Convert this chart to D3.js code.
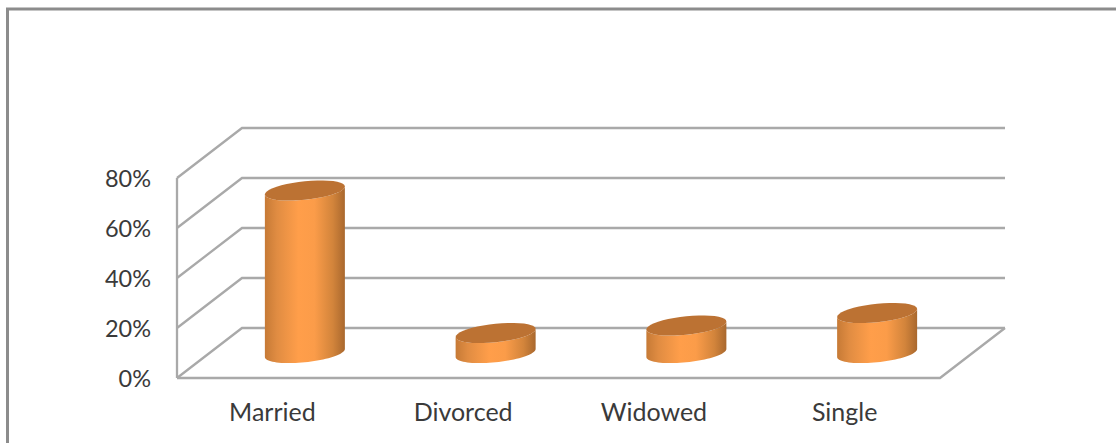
<!DOCTYPE html>
<html>
<head>
<meta charset="utf-8">
<script src="https://cdn.jsdelivr.net/npm/d3@7"></script>
<style>
  html, body { margin: 0; padding: 0; background: #fff; overflow: hidden; }
  svg { display: block; }
  text { font-family: Lato, "Open Sans", sans-serif; fill: #3a3a3a; }
</style>
</head>
<body>
<svg id="chart" width="1116" height="443"></svg>
<script>
const categories = ["Married", "Divorced", "Widowed", "Single"];
const values = [65, 8, 11, 16];
const ticks = [0, 20, 40, 60, 80];

const svg = d3.select("#chart");

const plot = { left: 177, right: 940, bottom: 378, top: 178 };
const depthX = 65, depthY = 50;
const barHalf = 40, capRy = 9.3, capTilt = 4;

const x = d3.scaleBand().domain(categories).range([plot.left, plot.right]);
const y = d3.scaleLinear().domain([0, 80]).range([plot.bottom, plot.top]);

// outer frame, open on the right and bottom like the crop
svg.append("path")
  .attr("d", "M7.5,443V9H1116")
  .attr("fill", "none")
  .attr("stroke", "#8c8c8c")
  .attr("stroke-width", 3);

const grid = svg.append("g")
  .attr("fill", "none")
  .attr("stroke", "#a9a9a9")
  .attr("stroke-width", 2.3);

// back wall and side wall lines
ticks.forEach(t => {
  grid.append("path")
    .attr("d", `M${plot.left},${y(t)}L${plot.left + depthX},${y(t) - depthY}H${plot.right + depthX}`);
});
grid.append("path").attr("d", `M${plot.left},${y(0)}V${y(80)}`);
grid.append("path")
  .attr("d", `M${plot.left},${y(0)}H${plot.right}L${plot.right + depthX},${y(0) - depthY}`);

const defs = svg.append("defs");
const grad = defs.append("linearGradient").attr("id", "side");
[[0, "#c67a36"], [0.15, "#e08c42"], [0.42, "#ff9e4a"], [0.62, "#fb9c49"], [0.85, "#d2843b"], [1, "#a9682e"]]
  .forEach(s => grad.append("stop").attr("offset", s[0]).attr("stop-color", s[1]));

// rim of a sheared ellipse, a = 0 right, a = PI left
function rim(cx, cy, from, to) {
  const pts = d3.range(0, 41).map(i => {
    const a = from + (to - from) * i / 40;
    return [cx + barHalf * Math.cos(a), cy + capRy * Math.sin(a) - capTilt * Math.cos(a)];
  });
  return pts;
}
const line = d3.line();

const bars = svg.append("g").selectAll("g")
  .data(categories.map((c, i) => ({ c, v: values[i] })))
  .join("g");

bars.append("path")
  .attr("fill", "url(#side)")
  .attr("d", d => {
    const cx = x(d.c) + x.bandwidth() / 2 + depthX / 2;
    const baseY = y(0) - depthY / 2;
    const topY = y(d.v) - depthY / 2;
    return line(rim(cx, baseY, Math.PI, 0)
      .concat(rim(cx, topY, 0, Math.PI))) + "Z";
  });

bars.append("path")
  .attr("fill", "#bc7233")
  .attr("d", d => {
    const cx = x(d.c) + x.bandwidth() / 2 + depthX / 2;
    return line(rim(cx, y(d.v) - depthY / 2, 0, Math.PI * 2)) + "Z";
  });

const yAxis = d3.axisLeft(y).tickValues(ticks).tickSize(0).tickPadding(26)
  .tickFormat(d => d + "%");
const gy = svg.append("g").attr("transform", `translate(${plot.left},1)`).call(yAxis);
gy.select(".domain").remove();
gy.selectAll("text").style("font-size", "23.5px");

const xAxis = d3.axisBottom(x).tickSize(0).tickPadding(25);
const gx = svg.append("g").attr("transform", `translate(0,${plot.bottom})`).call(xAxis);
gx.select(".domain").remove();
gx.selectAll("text").style("font-size", "25px");
</script>
</body>
</html>
